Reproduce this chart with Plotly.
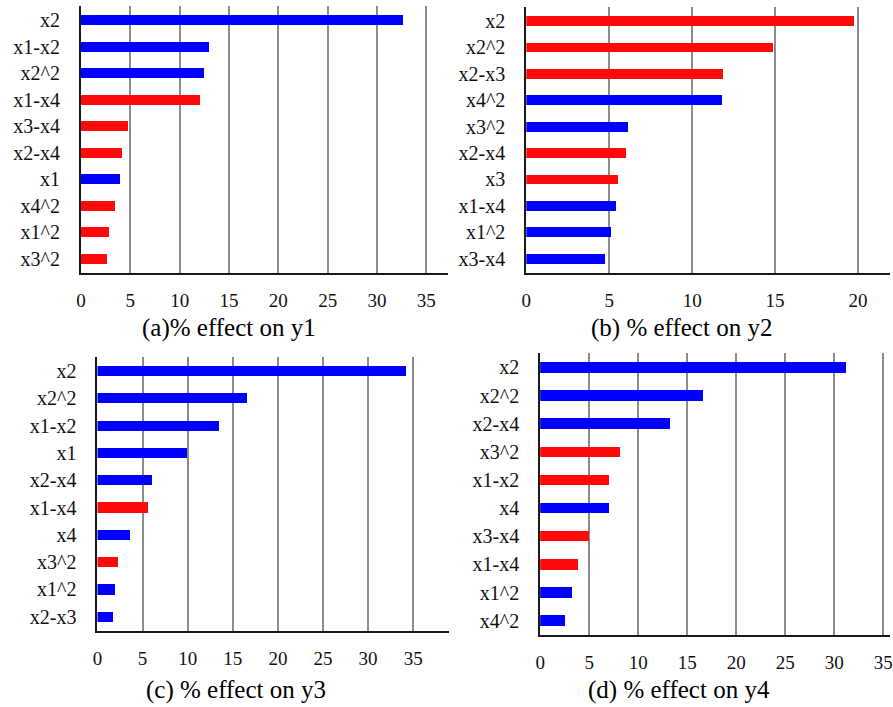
import plotly.graph_objects as go

W, H = 893, 707
BLUE = "#0000ff"
RED = "#ff0a0a"

# ---- data: factors ranked by % effect on each response ----
labels_y1 = ["x2", "x1-x2", "x2^2", "x1-x4", "x3-x4", "x2-x4", "x1", "x4^2", "x1^2", "x3^2"]
values_y1 = [32.66, 12.96, 12.49, 12.09, 4.72, 4.12, 3.95, 3.42, 2.84, 2.64]
dir_y1 = ["pos", "pos", "pos", "neg", "neg", "neg", "pos", "neg", "neg", "neg"]

labels_y2 = ["x2", "x2^2", "x2-x3", "x4^2", "x3^2", "x2-x4", "x3", "x1-x4", "x1^2", "x3-x4"]
values_y2 = [19.78, 14.92, 11.9, 11.82, 6.16, 6.02, 5.52, 5.42, 5.1, 4.78]
dir_y2 = ["neg", "neg", "neg", "pos", "pos", "neg", "neg", "pos", "pos", "pos"]

labels_y3 = ["x2", "x2^2", "x1-x2", "x1", "x2-x4", "x1-x4", "x4", "x3^2", "x1^2", "x2-x3"]
values_y3 = [34.27, 16.6, 13.52, 9.97, 6.09, 5.61, 3.67, 2.28, 1.98, 1.76]
dir_y3 = ["pos", "pos", "pos", "pos", "pos", "neg", "pos", "neg", "pos", "pos"]

labels_y4 = ["x2", "x2^2", "x2-x4", "x3^2", "x1-x2", "x4", "x3-x4", "x1-x4", "x1^2", "x4^2"]
values_y4 = [31.22, 16.66, 13.22, 8.16, 7.08, 7.01, 4.96, 3.88, 3.27, 2.53]
dir_y4 = ["pos", "pos", "pos", "neg", "neg", "pos", "neg", "neg", "pos", "pos"]

ticks_y1 = [0, 5, 10, 15, 20, 25, 30, 35]
ticks_y2 = [0, 5, 10, 15, 20]
ticks_y3 = [0, 5, 10, 15, 20, 25, 30, 35]
ticks_y4 = [0, 5, 10, 15, 20, 25, 30, 35]

titles = ["(a)% effect on y1", "(b) % effect on y2", "(c) % effect on y3", "(d) % effect on y4"]

# ---- panel geometry (pixels): left, right, top, bottom, x max, bar slot pad, title centre ----
panels = [
    dict(lab=labels_y1, val=values_y1, d=dir_y1, ticks=ticks_y1,
         px=(76.7, 447), py=(6, 273), xmax=37.2, pad=0.53, tc=(226, 328)),
    dict(lab=labels_y2, val=values_y2, d=dir_y2, ticks=ticks_y2,
         px=(526, 893), py=(7, 272.7), xmax=21.93, pad=0.53, tc=(683, 328)),
    dict(lab=labels_y3, val=values_y3, d=dir_y3, ticks=ticks_y3,
         px=(93.3, 448.3), py=(357, 630.7), xmax=39.0, pad=0.51, tc=(233, 690)),
    dict(lab=labels_y4, val=values_y4, d=dir_y4, ticks=ticks_y4,
         px=(540, 893), py=(353, 635), xmax=35.7, pad=0.51, tc=(680, 690)),
]

FONT = "Liberation Serif, Times New Roman, serif"
fig = go.Figure()
layout = dict(
    width=W, height=H,
    margin=dict(l=0, r=0, t=0, b=0),
    paper_bgcolor="white", plot_bgcolor="white",
    showlegend=False, bargap=0,
    font=dict(family=FONT, color="black", size=16),
    annotations=[],
)

for i, p in enumerate(panels, start=1):
    xa = "x" if i == 1 else f"x{i}"
    ya = "y" if i == 1 else f"y{i}"
    colors = [BLUE if s == "pos" else RED for s in p["d"]]
    fig.add_trace(go.Bar(
        x=p["val"], y=p["lab"], orientation="h",
        marker=dict(color=colors, line=dict(width=0)),
        width=0.37, xaxis=xa, yaxis=ya,
    ))
    n = len(p["lab"])
    xkey = "xaxis" if i == 1 else f"xaxis{i}"
    ykey = "yaxis" if i == 1 else f"yaxis{i}"
    layout[xkey] = dict(
        domain=[p["px"][0] / W, p["px"][1] / W],
        anchor=ya, range=[0, p["xmax"]],
        tickvals=p["ticks"], ticks="", ticklabelstandoff=9,
        ticklabeloverflow="allow",
        showgrid=True, gridcolor="#8c8c8c", gridwidth=2,
        zeroline=False, showline=True, linecolor="#1a1a1a", linewidth=2,
        tickfont=dict(family=FONT, size=19, color="#111"),
        fixedrange=True,
    )
    layout[ykey] = dict(
        domain=[1 - p["py"][1] / H, 1 - p["py"][0] / H],
        anchor=xa, type="category",
        categoryorder="array", categoryarray=p["lab"],
        range=[n - 1 + p["pad"], -p["pad"]],
        ticks="", ticklabelstandoff=15,
        showgrid=False, zeroline=False,
        showline=True, linecolor="#1a1a1a", linewidth=2,
        tickfont=dict(family=FONT, size=20, color="#111"),
        fixedrange=True,
    )
    layout["annotations"].append(dict(
        text=titles[i - 1], xref="paper", yref="paper",
        x=p["tc"][0] / W, y=1 - p["tc"][1] / H,
        xanchor="center", yanchor="middle", showarrow=False,
        font=dict(family=FONT, size=25, color="black"),
    ))

fig.update_layout(**layout)
fig.write_html("out.html")
